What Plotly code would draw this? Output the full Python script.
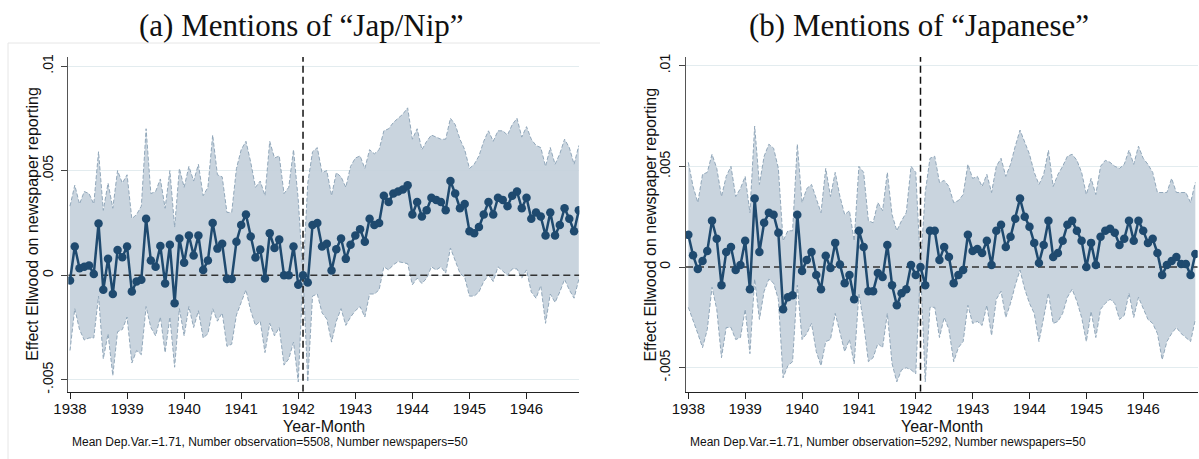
import plotly.graph_objects as go

W, H = 1199, 459

# Month index 0 = 1938m1 ... 107 = 1946m12
YEARS = ["1938", "1939", "1940", "1941", "1942", "1943", "1944", "1945", "1946"]
REF_MONTH = 49  # 1942m2, omitted reference month

# (a) Mentions of "Jap/Nip"
jap_coef = [
    -0.00025, 0.00137, 0.00033, 0.0004, 0.00046, 0.00006, 0.00247, -0.0007, 0.00078, -0.0009, 0.0012, 0.00086,
    0.00137, -0.00078, -0.0003, -0.00022, 0.0027, 0.0007, 0.0004, 0.0014, -0.0004, 0.00145, -0.00134, 0.00175,
    0.0006, 0.0019, 0.00094, 0.0019, 0.00025, 0.0007, 0.0025, 0.00127, 0.0015, -0.00018, -0.00018, 0.0016,
    0.0024, 0.0029, 0.00185, 0.00084, 0.00123, -0.00016, 0.002, 0.0013, 0.0017, 0.0, 0.0, 0.00137,
    -0.00046, 0.0, -0.00035, 0.0024, 0.0025, 0.00137, 0.0015, 0.00022, 0.00124, 0.00175, 0.00078, 0.00146,
    0.0019, 0.0022, 0.0016, 0.0027, 0.0024, 0.0025, 0.0038, 0.0035, 0.0039, 0.004, 0.0041, 0.0043,
    0.0029, 0.0035, 0.0028, 0.0031, 0.0037, 0.0036, 0.0035, 0.0031, 0.0045, 0.0039, 0.0032, 0.0034,
    0.0021, 0.002, 0.0023, 0.0029, 0.0035, 0.0029, 0.0037, 0.0036, 0.0033, 0.0038, 0.004, 0.0032,
    0.0037, 0.0027, 0.003, 0.0028, 0.0019, 0.003, 0.0019, 0.0024, 0.0032, 0.0027, 0.0021, 0.0031,
]
jap_upper = [
    0.0033, 0.0043, 0.0034, 0.004, 0.0039, 0.0034, 0.0059, 0.0031, 0.0044, 0.0032, 0.005, 0.0044,
    0.0048, 0.0027, 0.0029, 0.0033, 0.007, 0.0039, 0.004, 0.0046, 0.0032, 0.005, 0.0023, 0.0051,
    0.0042, 0.0052, 0.0045, 0.0053, 0.0038, 0.0042, 0.0067, 0.0048, 0.0047, 0.003, 0.003, 0.0051,
    0.006, 0.0064, 0.0054, 0.0042, 0.0045, 0.0038, 0.0064, 0.0056, 0.0057, 0.0039, 0.0042, 0.006,
    0.0036, 0.0, 0.0044, 0.0059, 0.0061, 0.0049, 0.005, 0.0038, 0.0049, 0.0047, 0.0042, 0.0052,
    0.0056, 0.0057, 0.0051, 0.006, 0.0058, 0.006, 0.0069, 0.007, 0.0073, 0.0075, 0.0077, 0.008,
    0.0065, 0.007, 0.006, 0.0064, 0.0067, 0.0066, 0.0065, 0.0065, 0.0075, 0.0072, 0.0065, 0.006,
    0.0051, 0.0053, 0.0057, 0.0064, 0.0069, 0.0064, 0.0069, 0.0069, 0.0067, 0.0072, 0.0075, 0.0066,
    0.0071, 0.0065, 0.0062, 0.0061, 0.0052, 0.0061, 0.0053, 0.0058, 0.0065, 0.0061, 0.0053, 0.0062,
]
jap_lower = [
    -0.0036, -0.0016, -0.0026, -0.0031, -0.003, -0.003, -0.001, -0.004, -0.0028, -0.0048, -0.0027, -0.0026,
    -0.002, -0.0042, -0.0036, -0.0038, -0.0015, -0.0025, -0.0029, -0.002, -0.0037, -0.002, -0.0044, -0.0016,
    -0.0029, -0.0015, -0.0025, -0.0017, -0.003, -0.0028, -0.0016, -0.0022, -0.0018, -0.0034, -0.0033, -0.0019,
    -0.0013, -0.0007, -0.0017, -0.0024, -0.0022, -0.0037, -0.0023, -0.0029, -0.0025, -0.0043, -0.004, -0.0032,
    -0.0051, 0.0, -0.0051, -0.001, -0.0009, -0.0018, -0.0021, -0.0032, -0.0022, -0.0016, -0.0024, -0.002,
    -0.0017, -0.0015, -0.002, -0.0009, -0.0009, -0.0007, 0.0004, 0.00025, 0.0005, 0.00065, 0.0006, 0.00055,
    -0.00046, -0.00014, -0.0004, -0.00014, 0.0004, 0.00025, 0.0004, 0.0001, 0.0013, 0.00065, 0.0001, -0.0001,
    -0.001, -0.001, -0.0008, -0.0003, 0.0, -0.0003, 0.0004, 0.0002, 0.0, 0.0003, 0.0003, -0.00014,
    0.00025, -0.0008, -0.0011, -0.0005, -0.0023, -0.0009, -0.0013, -0.0008, -0.0002, -0.0007, -0.0011, -0.0002,
]

# (b) Mentions of "Japanese"
jpn_coef = [
    0.0016, 0.00058, -0.0001, 0.0003, 0.0008, 0.0023, 0.0014, -0.0009, 0.00075, 0.001, -0.00015, 0.0001,
    0.0013, -0.0011, 0.0034, 0.00075, 0.0022, 0.0027, 0.0026, 0.0017, -0.0021, -0.0015, -0.0014, 0.0026,
    -0.0002, 0.00035, 0.00075, -0.0004, -0.0011, 0.00056, -0.00005, 0.0012, 0.00013, -0.0008, -0.0004, -0.0016,
    0.0018, 0.001, -0.0012, -0.0012, -0.0003, -0.0005, 0.0011, -0.0009, -0.0019, -0.0013, -0.0011, 0.0001,
    -0.0004, 0.0, -0.0009, 0.0018, 0.0018, 0.00035, 0.001, 0.0005, -0.0008, -0.0004, -0.00015, 0.0016,
    0.0008, 0.0009, 0.0007, 0.0013, 0.0001, 0.0018, 0.0021, 0.001, 0.0015, 0.0024, 0.0034, 0.0025,
    0.002, 0.0012, 0.0002, 0.0011, 0.0023, 0.0005, 0.0007, 0.0013, 0.0021, 0.0023, 0.0018, 0.0013,
    0.0, 0.0012, 0.0001, 0.0015, 0.0018, 0.0019, 0.0017, 0.0011, 0.0014, 0.0023, 0.0013, 0.0023,
    0.0018, 0.0012, 0.0014, 0.0007, -0.0004, 0.0001, 0.0003, 0.0005, 0.00015, 0.00015, -0.0004, 0.00065,
]
jpn_upper = [
    0.0052, 0.004, 0.0032, 0.0046, 0.0047, 0.0056, 0.0049, 0.0035, 0.0045, 0.005, 0.0035, 0.0039,
    0.0045, 0.0027, 0.007, 0.0041, 0.0055, 0.0061, 0.0059, 0.0049, 0.0013, 0.0018, 0.0018, 0.0061,
    0.0032, 0.0039, 0.0041, 0.0034, 0.0027, 0.0049, 0.0035, 0.0047, 0.0035, 0.0026, 0.0028, 0.0013,
    0.005, 0.0047, 0.0023, 0.0022, 0.0032, 0.0028, 0.0047, 0.0026, 0.0018, 0.0023, 0.0027, 0.005,
    0.0047, 0.0, 0.0037, 0.0054, 0.0055, 0.0042, 0.0043, 0.004, 0.0032, 0.0033, 0.0036, 0.0051,
    0.0044, 0.0045, 0.004, 0.0046, 0.0037, 0.005, 0.0054, 0.0045, 0.0051, 0.006, 0.0068, 0.0062,
    0.0056, 0.0047, 0.0041, 0.0046, 0.0058, 0.004, 0.0046, 0.005, 0.0055, 0.0056, 0.0053, 0.0047,
    0.0036, 0.0044, 0.0036, 0.005, 0.0053, 0.0052, 0.005, 0.0049, 0.0051, 0.0058, 0.0051, 0.006,
    0.0054, 0.0051, 0.0047, 0.0037, 0.0037, 0.0037, 0.0044, 0.0037, 0.0037, 0.0037, 0.0032, 0.0042,
]
jpn_lower = [
    -0.002, -0.0026, -0.0033, -0.004, -0.0031, -0.001, -0.0021, -0.0045, -0.003, -0.003, -0.0036, -0.0035,
    -0.0021, -0.0043, -0.0006, -0.0026, -0.0012, -0.0006, -0.0008, -0.0016, -0.0055, -0.0049, -0.0047, -0.0009,
    -0.0036, -0.0033, -0.0028, -0.0042, -0.0049, -0.0037, -0.0036, -0.0023, -0.0033, -0.0042, -0.0036, -0.0048,
    -0.0013, -0.0028, -0.0047, -0.0045, -0.0038, -0.004, -0.0023, -0.0048, -0.0057, -0.0051, -0.005, -0.0051,
    -0.0053, 0.0, -0.0057, -0.002, -0.002, -0.0035, -0.0025, -0.0031, -0.0047, -0.004, -0.0037, -0.0019,
    -0.0028, -0.0027, -0.0029, -0.0019, -0.0034, -0.0016, -0.0012, -0.0025, -0.0018, -0.0009, -0.00015, -0.0011,
    -0.0018, -0.0023, -0.0037, -0.0025, -0.0013, -0.0028, -0.0027, -0.0023, -0.0015, -0.0011, -0.0017, -0.0025,
    -0.0037, -0.0022, -0.0035, -0.0021, -0.0018, -0.0016, -0.0018, -0.0026, -0.0024, -0.0013, -0.0025, -0.0015,
    -0.0021, -0.0026, -0.0028, -0.0033, -0.0046, -0.0037, -0.0033, -0.003, -0.0033, -0.0035, -0.0037, -0.0026,
]

months = list(range(len(jap_coef)))

NAVY = "#1f4a6f"
CI_FILL = "rgba(196,208,219,0.92)"
CI_EDGE = "#91a7ba"
SANS = "Liberation Sans, Arial, sans-serif"
SERIF = "Liberation Serif, Times New Roman, serif"


def px_x(p):
    return p / W


def px_y(p):
    return 1 - p / H


panels = [
    dict(coef=jap_coef, up=jap_upper, lo=jap_lower, xa="x", ya="y",
         x_px=(68.3, 579.3), xr=(-0.36, 107.1), yr=(-0.00557, 0.01043),
         title="(a) Mentions of “Jap/Nip”", title_x=301,
         note="Mean Dep.Var.=1.71, Number observation=5508, Number newspapers=50", note_x=70),
    dict(coef=jpn_coef, up=jpn_upper, lo=jpn_lower, xa="x2", ya="y2",
         x_px=(686.0, 1197.7), xr=(-0.49, 107.5), yr=(-0.00619, 0.01043),
         title="(b) Mentions of “Japanese”", title_x=919,
         note="Mean Dep.Var.=1.71, Number observation=5292, Number newspapers=50", note_x=688),
]

PLOT_TOP, PLOT_BOTTOM = 57.0, 391.7

fig = go.Figure()
annotations = []
layout_axes = {}

for k, p in enumerate(panels):
    xa, ya = p["xa"], p["ya"]
    # confidence band
    fig.add_trace(go.Scatter(x=months, y=p["lo"], mode="lines", xaxis=xa, yaxis=ya,
                             line=dict(color=CI_EDGE, width=1, dash="4px,2px"),
                             showlegend=False, hoverinfo="skip"))
    fig.add_trace(go.Scatter(x=months, y=p["up"], mode="lines", xaxis=xa, yaxis=ya,
                             fill="tonexty", fillcolor=CI_FILL,
                             line=dict(color=CI_EDGE, width=1, dash="4px,2px"),
                             showlegend=False, hoverinfo="skip"))
    # zero line and reference-month line
    fig.add_trace(go.Scatter(x=[p["xr"][0], p["xr"][1]], y=[0, 0], mode="lines", xaxis=xa, yaxis=ya,
                             line=dict(color="#333333", width=1.5, dash="7px,4px"),
                             showlegend=False, hoverinfo="skip"))
    fig.add_trace(go.Scatter(x=[REF_MONTH, REF_MONTH], y=[p["yr"][0], p["yr"][1]], mode="lines",
                             xaxis=xa, yaxis=ya,
                             line=dict(color="#111111", width=1.5, dash="7px,4px"),
                             showlegend=False, hoverinfo="skip"))
    # point estimates
    fig.add_trace(go.Scatter(x=months, y=p["coef"], mode="lines+markers", xaxis=xa, yaxis=ya,
                             line=dict(color=NAVY, width=2.5),
                             marker=dict(color=NAVY, size=8.5),
                             showlegend=False))

    sfx = "" if k == 0 else str(k + 1)
    layout_axes["xaxis" + sfx] = dict(
        domain=[px_x(p["x_px"][0]), px_x(p["x_px"][1])], range=list(p["xr"]), anchor=ya,
        tickvals=[12 * i for i in range(len(YEARS))], ticktext=YEARS,
        ticks="outside", ticklen=6, tickwidth=1, tickcolor="#222222",
        showline=True, linecolor="#222222", linewidth=1.3, ticklabelstandoff=-3,
        showgrid=False, zeroline=False, automargin=False,
        tickfont=dict(family=SANS, size=15, color="#111111"),
    )
    layout_axes["yaxis" + sfx] = dict(
        domain=[px_y(PLOT_BOTTOM), px_y(PLOT_TOP)], range=list(p["yr"]), anchor=xa,
        tickvals=[-0.005, 0, 0.005, 0.01], ticktext=["-.005", "0", ".005", ".01"],
        tickangle=-90, ticks="outside", ticklen=6, tickwidth=1, tickcolor="#444444",
        showline=True, linecolor="#555555", linewidth=1.3, ticklabelstandoff=3,
        showgrid=True, gridcolor="#e3ecef", gridwidth=1, zeroline=False, automargin=False,
        tickfont=dict(family=SANS, size=14, color="#111111"),
    )

    cx = (p["x_px"][0] + p["x_px"][1]) / 2
    annotations += [
        dict(text=p["title"], x=px_x(p["title_x"]), y=px_y(26), xref="paper", yref="paper",
             xanchor="center", yanchor="middle", showarrow=False,
             font=dict(family=SERIF, size=31, color="#111111")),
        dict(text="Effect Ellwood on newspaper reporting", textangle=-90,
             x=px_x(p["x_px"][0] - 35.8), y=px_y((PLOT_TOP + PLOT_BOTTOM) / 2),
             xref="paper", yref="paper", xanchor="center", yanchor="middle", showarrow=False,
             font=dict(family=SANS, size=16, color="#111111")),
        dict(text="Year-Month", x=px_x(cx), y=px_y(426), xref="paper", yref="paper",
             xanchor="center", yanchor="middle", showarrow=False,
             font=dict(family=SANS, size=16, color="#111111")),
        dict(text=p["note"], x=px_x(p["note_x"]), y=px_y(442), xref="paper", yref="paper",
             xanchor="left", yanchor="middle", showarrow=False,
             font=dict(family=SANS, size=12, color="#111111")),
    ]

# faint outline of the first graph region
shapes = [
    dict(type="line", xref="paper", yref="paper", x0=px_x(8), x1=px_x(8), y0=0, y1=px_y(43),
         line=dict(color="#e6e6e6", width=1)),
    dict(type="line", xref="paper", yref="paper", x0=px_x(8), x1=px_x(600), y0=px_y(43), y1=px_y(43),
         line=dict(color="#e6e6e6", width=1)),
]

fig.update_layout(
    width=W, height=H, autosize=False,
    margin=dict(l=0, r=0, t=0, b=0, pad=0, autoexpand=False),
    paper_bgcolor="white", plot_bgcolor="white",
    showlegend=False,
    annotations=annotations, shapes=shapes,
    **layout_axes,
)

fig.write_html("out.html")
